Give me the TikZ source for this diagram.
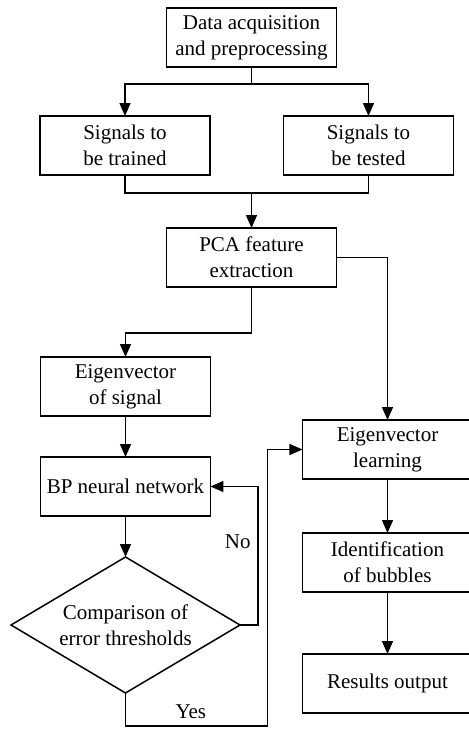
\documentclass[tikz,border=0pt]{standalone}
\usepackage{fontspec}
\setmainfont{Liberation Serif}
\usetikzlibrary{shapes.geometric,arrows.meta,positioning,calc}

\begin{document}
\begin{tikzpicture}[
  font=\fontsize{10.5}{13}\selectfont,
  block/.style={rectangle, draw, line width=0.75pt, minimum height=29.5pt, minimum width=85pt, inner sep=2pt, outer sep=0pt, align=center},
  decision/.style={diamond, draw, line width=0.75pt, minimum width=114.5pt, minimum height=68pt, aspect=1.68, inner sep=0pt, outer sep=0pt, align=center},
  arrow/.style={-{Triangle[length=6.5pt,width=5.5pt]}, line width=0.75pt},
  line/.style={line width=0.75pt}
]

\useasboundingbox (-125.75pt,18.75pt) rectangle (108.75pt,-345.75pt);

% Input
\node[block] (data) {Data acquisition\\and preprocessing};
\node[block, below=24.5pt of data, xshift=-63.25pt] (trained) {Signals to\\be trained};
\node[block, below=24.5pt of data, xshift=58.5pt] (tested) {Signals to\\be tested};
\node[block, below=80.5pt of data] (pca) {PCA feature\\extraction};

% Training branch
\node[block, below=35pt of pca, xshift=-63pt] (eigsig) {Eigenvector\\of signal};
\node[block, below=20.5pt of eigsig] (bp) {BP neural network};
\node[decision, below=20.5pt of bp] (cmp) {Comparison of\\error thresholds};

% Recognition branch
\node[block, below=66.5pt of pca, xshift=68pt] (eiglearn) {Eigenvector\\learning};
\node[block, below=27pt of eiglearn] (ident) {Identification\\of bubbles};
\node[block, below=31pt of ident] (result) {Results output};

% Turning points
\coordinate (split) at ($(data.south)+(0,-8.5pt)$);
\coordinate (merge) at ($(pca.north)+(0,17.5pt)$);
\coordinate (bend) at ($(eigsig.north)+(0,12pt)$);
\coordinate (noturn) at ($(cmp.east)+(9pt,0)$);
\coordinate (yesdown) at ($(cmp.south)+(0,-16.5pt)$);
\coordinate (yesup) at ($(eiglearn.west)+(-17.5pt,0)$);

% Arrows
\draw[line] (data) -- (split);
\draw[arrow] (split) -| (trained);
\draw[arrow] (split) -| (tested);
\draw[line] (trained.south) |- (merge) -| (tested.south);
\draw[arrow] (merge) -- (pca);
\draw[arrow] (pca.south) |- (bend) -- (eigsig);
\draw[arrow] (pca.east) -| (eiglearn);
\draw[arrow] (eigsig) -- (bp);
\draw[arrow] (bp) -- (cmp);
\draw[arrow] (eiglearn) -- (ident);
\draw[arrow] (ident) -- (result);

% Decision outcomes
\draw[arrow] (cmp.east) -- (noturn) |- node[pos=0.3, left] {No} (bp.east);
\draw[arrow] (cmp.south) -- (yesdown) -| node[pos=0.23, above] {Yes} (yesup) -- (eiglearn.west);

\end{tikzpicture}
\end{document}
